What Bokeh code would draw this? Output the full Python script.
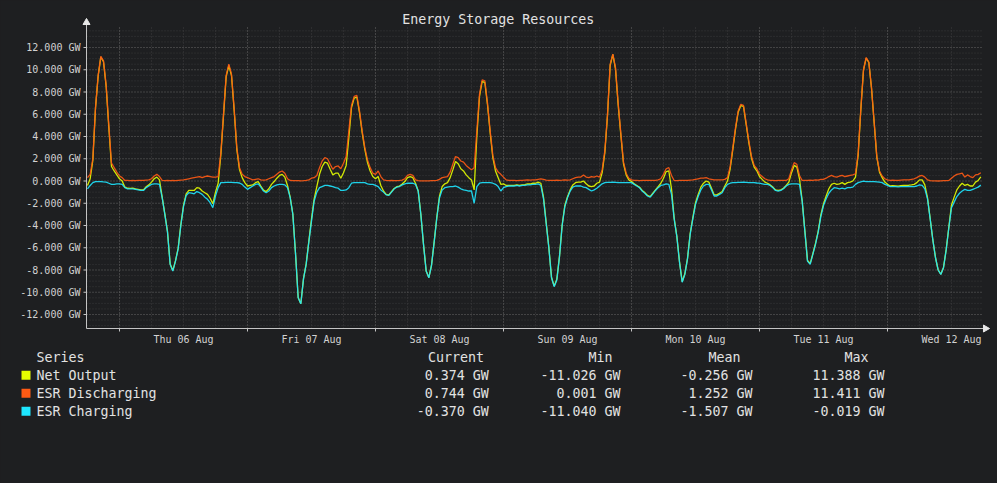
import datetime as dt
import math
import numpy as np
from bokeh.plotting import figure
from bokeh.models import Range1d, FixedTicker, PrintfTickFormatter, DatetimeTickFormatter
from bokeh.embed import file_html
from bokeh.resources import INLINE
from bokeh.core.properties import value

# ---------------- data (GW, 30-minute samples from Wed 05 Aug 18:00) ----------------
START = dt.datetime(2020, 8, 5, 18, 0)
STEP_MINUTES = 30

esr_discharging = [
    0.3, 0.6, 2.0, 6.6, 9.5, 11.2, 10.8, 8.6, 5.0, 1.6, 1.2, 0.8,
    0.45, 0.3, 0.05, 0.05, 0.03, 0.05, 0.04, 0.05, 0.06, 0.05, 0.08, 0.1,
    0.2, 0.45, 0.6, 0.4, 0.05, 0.04, 0.05, 0.03, 0.05, 0.04, 0.06, 0.08,
    0.1, 0.15, 0.2, 0.25, 0.3, 0.35, 0.4, 0.3, 0.4, 0.45, 0.4, 0.35,
    0.35, 0.4, 2.5, 6.0, 9.5, 10.5, 9.6, 6.5, 3.0, 1.2, 0.6, 0.4,
    0.3, 0.2, 0.1, 0.15, 0.2, 0.1, 0.08, 0.1, 0.2, 0.3, 0.4, 0.6,
    0.8, 0.9, 0.7, 0.2, 0.05, 0.04, 0.03, 0.03, 0.02, 0.03, 0.05, 0.1,
    0.25, 0.3, 0.5, 1.2, 1.8, 2.1, 2.0, 1.5, 1.05, 1.3, 1.35, 1.1,
    1.6, 2.2, 4.5, 6.8, 7.6, 7.7, 6.3, 4.5, 3.0, 1.9, 1.2, 0.7,
    0.6, 0.9, 0.4, 0.1, 0.05, 0.04, 0.05, 0.03, 0.04, 0.05, 0.08, 0.2,
    0.5, 0.6, 0.5, 0.1, 0.03, 0.02, 0.02, 0.02, 0.02, 0.03, 0.03, 0.05,
    0.15, 0.3, 0.35, 0.4, 0.8, 1.5, 2.2, 2.1, 1.8, 1.7, 1.4, 1.2,
    1.0, 1.2, 4.5, 7.8, 9.1, 9.0, 7.0, 4.5, 2.3, 1.2, 0.8, 0.6,
    0.35, 0.1, 0.05, 0.06, 0.05, 0.04, 0.05, 0.06, 0.08, 0.1, 0.08, 0.1,
    0.1, 0.15, 0.2, 0.15, 0.08, 0.05, 0.06, 0.05, 0.08, 0.05, 0.07, 0.1,
    0.08, 0.1, 0.2, 0.3, 0.35, 0.35, 0.55, 0.35, 0.3, 0.4, 0.35, 0.45,
    0.35, 1.0, 2.7, 6.0, 10.5, 11.411, 10.2, 7.0, 4.3, 1.7, 0.7, 0.25,
    0.1, 0.05, 0.05, 0.04, 0.05, 0.06, 0.05, 0.05, 0.05, 0.05, 0.1, 0.2,
    0.6, 1.1, 1.2, 0.5, 0.05, 0.04, 0.05, 0.05, 0.06, 0.05, 0.08, 0.1,
    0.15, 0.2, 0.25, 0.25, 0.3, 0.2, 0.15, 0.1, 0.1, 0.1, 0.1, 0.15,
    0.3, 1.3, 3.0, 4.8, 6.3, 6.9, 6.8, 5.2, 3.6, 2.2, 1.4, 1.1,
    0.6, 0.4, 0.2, 0.1, 0.05, 0.05, 0.04, 0.05, 0.06, 0.05, 0.05, 0.2,
    1.0, 1.65, 1.5, 0.5, 0.05, 0.06, 0.05, 0.08, 0.06, 0.1, 0.08, 0.15,
    0.15, 0.25, 0.4, 0.5, 0.4, 0.35, 0.45, 0.5, 0.4, 0.45, 0.5, 0.55,
    0.65, 2.5, 6.5, 10.0, 11.1, 10.7, 8.4, 5.3, 2.2, 0.9, 0.45, 0.2,
    0.1, 0.05, 0.08, 0.06, 0.05, 0.08, 0.1, 0.1, 0.1, 0.15, 0.2, 0.3,
    0.45, 0.5, 0.35, 0.1, 0.03, 0.02, 0.02, 0.001, 0.02, 0.03, 0.03, 0.05,
    0.25, 0.45, 0.6, 0.65, 0.7, 0.35, 0.55, 0.4, 0.3, 0.55, 0.6, 0.744,
]

esr_charging = [
    -0.7, -0.4, -0.15, -0.05, -0.05, -0.05, -0.08, -0.1, -0.2, -0.3, -0.3, -0.25,
    -0.25, -0.3, -0.6, -0.7, -0.7, -0.7, -0.75, -0.8, -0.85, -0.85, -0.6, -0.45,
    -0.3, -0.25, -0.25, -0.3, -1.5, -3.0, -4.6, -7.5, -8.1, -7.2, -6.1, -4.0,
    -2.3, -1.3, -1.05, -1.1, -1.15, -0.95, -1.05, -1.2, -1.45, -1.65, -1.95, -2.4,
    -1.35, -0.6, -0.15, -0.15, -0.12, -0.12, -0.12, -0.15, -0.15, -0.18, -0.3, -0.55,
    -0.75, -0.6, -0.45, -0.3, -0.25, -0.55, -0.9, -1.05, -0.9, -0.6, -0.45, -0.35,
    -0.3, -0.3, -0.35, -0.6, -1.5, -3.0, -6.5, -10.5, -11.04, -8.8, -7.5, -5.5,
    -3.6, -1.8, -1.0, -0.6, -0.5, -0.4, -0.4, -0.45, -0.5, -0.6, -0.65, -0.85,
    -0.85, -0.8, -0.6, -0.2, -0.15, -0.15, -0.15, -0.15, -0.15, -0.25, -0.3, -0.3,
    -0.4, -0.5, -0.8, -1.0, -1.25, -1.3, -1.0, -0.7, -0.55, -0.5, -0.35, -0.25,
    -0.2, -0.2, -0.2, -0.3, -0.9, -3.0, -5.7, -8.1, -8.7, -7.6, -5.5, -3.3,
    -1.5, -0.8, -0.6, -0.55, -0.5, -0.5, -0.45, -0.55, -0.7, -0.8, -0.85, -0.9,
    -0.9, -2.0, -0.5, -0.2, -0.15, -0.15, -0.15, -0.15, -0.2, -0.3, -0.5, -0.9,
    -0.6, -0.5, -0.45, -0.45, -0.45, -0.4, -0.45, -0.4, -0.4, -0.35, -0.35, -0.3,
    -0.3, -0.25, -0.4, -1.6, -3.8, -6.0, -8.7, -9.5, -8.9, -6.8, -4.0, -2.3,
    -1.5, -0.9, -0.55, -0.45, -0.45, -0.45, -0.55, -0.6, -0.75, -0.9, -0.8, -0.65,
    -0.45, -0.25, -0.15, -0.12, -0.12, -0.1, -0.12, -0.15, -0.15, -0.15, -0.15, -0.15,
    -0.15, -0.3, -0.45, -0.6, -0.9, -1.1, -1.35, -1.45, -1.15, -0.85, -0.6, -0.4,
    -0.35, -0.25, -0.3, -1.2, -3.4, -5.0, -7.3, -9.1, -8.4, -7.0, -4.8, -3.4,
    -2.1, -1.4, -0.8, -0.45, -0.3, -0.3, -0.8, -1.35, -1.35, -1.2, -1.05, -0.6,
    -0.3, -0.2, -0.15, -0.15, -0.12, -0.12, -0.1, -0.12, -0.15, -0.15, -0.15, -0.18,
    -0.2, -0.25, -0.3, -0.3, -0.4, -0.6, -0.85, -0.9, -0.85, -0.7, -0.45, -0.3,
    -0.25, -0.25, -0.25, -0.3, -1.8, -4.5, -7.2, -7.5, -6.6, -5.7, -4.6, -3.2,
    -2.2, -1.6, -1.1, -0.8, -0.6, -0.65, -0.7, -0.65, -0.7, -0.6, -0.6, -0.55,
    -0.3, -0.15, -0.08, -0.019, -0.05, -0.05, -0.05, -0.06, -0.08, -0.1, -0.15, -0.3,
    -0.4, -0.5, -0.5, -0.5, -0.52, -0.5, -0.5, -0.5, -0.48, -0.5, -0.5, -0.45,
    -0.35, -0.4, -0.7, -1.6, -3.4, -5.3, -6.9, -8.0, -8.4, -7.8, -6.2, -4.2,
    -2.4, -1.9, -1.4, -1.1, -0.9, -0.75, -0.85, -0.85, -0.75, -0.65, -0.55, -0.37,
]

net_output = [
    -0.4, 0.2, 1.85, 6.55, 9.45, 11.15, 10.72, 8.5, 4.8, 1.3, 0.9, 0.55,
    0.2, 0.0, -0.55, -0.65, -0.67, -0.65, -0.71, -0.75, -0.79, -0.8, -0.52, -0.35,
    -0.1, 0.2, 0.35, 0.1, -1.45, -2.96, -4.55, -7.47, -8.05, -7.16, -6.04, -3.92,
    -2.2, -1.15, -0.85, -0.85, -0.85, -0.6, -0.65, -0.9, -1.05, -1.2, -1.55, -2.05,
    -1.0, -0.2, 2.35, 5.85, 9.38, 10.38, 9.48, 6.35, 2.85, 1.02, 0.3, -0.15,
    -0.45, -0.4, -0.35, -0.15, -0.05, -0.45, -0.82, -0.95, -0.7, -0.3, -0.05, 0.25,
    0.5, 0.6, 0.35, -0.4, -1.45, -2.96, -6.47, -10.47, -11.026, -8.77, -7.45, -5.4,
    -3.4, -1.6, -0.5, 0.6, 1.3, 1.7, 1.6, 1.05, 0.55, 0.7, 0.7, 0.25,
    0.75, 1.4, 3.9, 6.6, 7.45, 7.55, 6.15, 4.35, 2.85, 1.65, 0.9, 0.4,
    0.2, 0.4, -0.4, -0.9, -1.2, -1.26, -0.95, -0.67, -0.51, -0.45, -0.27, -0.05,
    0.3, 0.4, 0.3, -0.2, -0.87, -2.98, -5.68, -8.08, -8.68, -7.57, -5.47, -3.25,
    -1.35, -0.5, -0.25, -0.15, 0.3, 1.0, 1.75, 1.55, 1.1, 0.9, 0.55, 0.3,
    0.1, -0.8, 4.0, 7.6, 8.95, 8.85, 6.85, 4.35, 2.1, 0.9, 0.3, -0.3,
    -0.25, -0.4, -0.4, -0.39, -0.4, -0.36, -0.4, -0.34, -0.32, -0.25, -0.27, -0.2,
    -0.2, -0.1, -0.2, -1.45, -3.72, -5.95, -8.64, -9.45, -8.82, -6.75, -3.93, -2.2,
    -1.42, -0.8, -0.35, -0.15, -0.1, -0.1, 0.0, -0.25, -0.45, -0.5, -0.45, -0.2,
    -0.1, 0.75, 2.55, 5.88, 10.38, 11.388, 10.08, 6.85, 4.15, 1.55, 0.55, 0.1,
    -0.05, -0.25, -0.4, -0.56, -0.85, -1.04, -1.3, -1.4, -1.1, -0.8, -0.5, -0.2,
    0.25, 0.85, 0.9, -0.7, -3.35, -4.96, -7.25, -9.05, -8.34, -6.95, -4.72, -3.3,
    -1.95, -1.2, -0.55, -0.2, 0.0, -0.1, -0.65, -1.25, -1.25, -1.1, -0.95, -0.45,
    0.0, 1.1, 2.85, 4.65, 6.18, 6.78, 6.7, 5.08, 3.45, 2.05, 1.25, 0.92,
    0.4, 0.15, -0.1, -0.2, -0.35, -0.55, -0.81, -0.85, -0.79, -0.65, -0.4, -0.1,
    0.75, 1.4, 1.25, 0.2, -1.75, -4.44, -7.15, -7.42, -6.54, -5.6, -4.52, -3.05,
    -2.05, -1.35, -0.7, -0.3, -0.2, -0.3, -0.25, -0.15, -0.3, -0.15, -0.1, 0.0,
    0.35, 2.35, 6.42, 9.98, 11.05, 10.65, 8.35, 5.24, 2.12, 0.8, 0.3, -0.1,
    -0.3, -0.45, -0.42, -0.44, -0.47, -0.42, -0.4, -0.4, -0.38, -0.35, -0.3, -0.15,
    0.1, 0.1, -0.35, -1.5, -3.37, -5.28, -6.88, -8.0, -8.38, -7.77, -6.17, -4.15,
    -2.15, -1.45, -0.8, -0.45, -0.2, -0.4, -0.3, -0.45, -0.45, -0.1, 0.05, 0.374,
]

assert len(net_output) == len(esr_discharging) == len(esr_charging) == 336

series_names = ["Net Output", "ESR Discharging", "ESR Charging"]
series_colors = ["#e5ff00", "#ff5a14", "#1ee6ff"]
stat_headers = ["Current", "Min", "Mean", "Max"]
stat_current = ["0.374 GW", "0.744 GW", "-0.370 GW"]
stat_min = ["-11.026 GW", "0.001 GW", "-11.040 GW"]
stat_mean = ["-0.256 GW", "1.252 GW", "-1.507 GW"]
stat_max = ["11.388 GW", "11.411 GW", "-0.019 GW"]
y_tick_values = [-12, -10, -8, -6, -4, -2, 0, 2, 4, 6, 8, 10, 12]
day_dates = [dt.datetime(2020, 8, d) for d in range(6, 13)]
TITLE = "Energy Storage Resources"

# ---------------- styling / geometry ----------------
BG = "#1e1f21"
MONO = "DejaVu Sans Mono"
TXT = "#e2e2e2"
EPOCH = dt.datetime(1970, 1, 1)


def ms(d):
    return (d - EPOCH).total_seconds() * 1000.0


AUG6 = ms(dt.datetime(2020, 8, 6))
PX_PER_HOUR = 128.0 / 24.0
PX_PER_GW = 11.125


def px_t(x):  # page pixel column -> time (ms)
    return AUG6 + (x - 119.0) / PX_PER_HOUR * 3600e3


def px_v(y):  # page pixel row -> GW
    return (180.5 - y) / PX_PER_GW


times = [ms(START + dt.timedelta(minutes=STEP_MINUTES * i)) for i in range(len(net_output))]

# frame covers the whole canvas; axes are pinned inside it with fixed_location
p = figure(width=997, height=483, x_axis_type="datetime",
           x_range=Range1d(px_t(0), px_t(997)), y_range=Range1d(px_v(483), px_v(0)),
           min_border_left=0, min_border_right=0, min_border_top=0, min_border_bottom=0,
           output_backend="svg", toolbar_location=None)
p.background_fill_color = BG
p.border_fill_color = BG
p.outline_line_color = None
p.xgrid.visible = False
p.ygrid.visible = False

t_left, t_right = px_t(86), px_t(983)
v_bot, v_top = px_v(328), px_v(25)

# grid (RRD style dotted)
minor_gw = [v for v in np.arange(-13.0, 13.51, 0.5) if abs(v / 2 - round(v / 2)) > 1e-9]
major_gw = y_tick_values
mids = [ms(d) for d in day_dates]
six = [ms(dt.datetime(2020, 8, 6) + dt.timedelta(hours=6 * k)) for k in range(0, 27)]
six = [t for t in six if t not in mids]
p.segment(x0=[t_left] * len(minor_gw), x1=[t_right] * len(minor_gw), y0=minor_gw, y1=minor_gw,
          line_color="#39393b", line_dash="1 2", line_width=1)
p.segment(x0=six, x1=six, y0=[v_bot] * len(six), y1=[v_top] * len(six),
          line_color="#3c3c3e", line_dash="1 2", line_width=1)
p.segment(x0=[t_left] * len(major_gw), x1=[t_right] * len(major_gw), y0=major_gw, y1=major_gw,
          line_color="#686868", line_dash="1 2", line_width=1)
p.segment(x0=mids, x1=mids, y0=[v_bot] * len(mids), y1=[v_top] * len(mids),
          line_color="#686868", line_dash="1 2", line_width=1)

# series
for vals, col in zip([net_output, esr_discharging, esr_charging], series_colors):
    p.line(times, vals, line_color=col, line_width=1.3, line_alpha=0.9)

# axis lines, ticks and arrows
AX = "#c4c4c4"
p.segment(x0=[t_left], x1=[t_left], y0=[v_bot], y1=[px_v(22)], line_color=AX, line_width=1)
p.segment(x0=[t_left], x1=[px_t(985)], y0=[v_bot], y1=[v_bot], line_color=AX, line_width=1)
p.segment(x0=[px_t(83)] * len(major_gw), x1=[t_left] * len(major_gw), y0=major_gw, y1=major_gw,
          line_color=AX, line_width=1)
p.segment(x0=mids, x1=mids, y0=[v_bot] * len(mids), y1=[px_v(331)] * len(mids),
          line_color=AX, line_width=1)
p.scatter(x=[t_left], y=[px_v(22)], marker="triangle", size=7, fill_color="#e8e8e8",
          line_color="#e8e8e8")
p.scatter(x=[px_t(985)], y=[v_bot], marker="triangle", size=7, angle=-math.pi / 2,
          fill_color="#e8e8e8", line_color="#e8e8e8")

# title
p.text(x=[px_t(497.7)], y=[px_v(19)], text=[TITLE], text_align="center",
       text_baseline="middle", text_font=value(MONO), text_font_size=value("13.3px"),
       text_color=TXT)

# axes (labels only, pinned to the plot-area edges)
for ax in [p.xaxis[0], p.yaxis[0]]:
    ax.axis_line_color = None
    ax.major_tick_line_color = None
    ax.minor_tick_line_color = None
    ax.major_tick_out = 0
    ax.major_tick_in = 0
    ax.minor_tick_out = 0
    ax.minor_tick_in = 0
    ax.major_label_text_font = MONO
    ax.major_label_text_font_size = "10px"
    ax.major_label_text_color = "#d2d2d2"
p.yaxis.ticker = FixedTicker(ticks=y_tick_values)
p.yaxis.formatter = PrintfTickFormatter(format="%.3f GW")
p.yaxis.major_label_standoff = 3
p.yaxis.fixed_location = px_t(83)
p.xaxis.ticker = FixedTicker(ticks=[ms(d + dt.timedelta(hours=12)) for d in day_dates])
F = "%a %d %b"
p.xaxis.formatter = DatetimeTickFormatter(microseconds=F, milliseconds=F, seconds=F, minsec=F,
                                          minutes=F, hourmin=F, hours=F, days=F, months=F, years=F)
p.xaxis.major_label_standoff = 2
p.xaxis.fixed_location = px_v(331)

# ---------------- legend table ----------------
txt_kw = dict(text_font=value(MONO), text_font_size=value("13.3px"), text_color=TXT,
              text_baseline="middle")
row_y = [374.5, 392.5, 410.5]
p.text(x=[px_t(36)], y=[px_v(356.5)], text=["Series"], text_align="left", **txt_kw)
p.text(x=[px_t(v) for v in [483.5, 612, 740, 868]], y=[px_v(356.5)] * 4, text=stat_headers,
       text_align="right", **txt_kw)
p.text(x=[px_t(36)] * 3, y=[px_v(y) for y in row_y], text=series_names, text_align="left",
       **txt_kw)
for colx, vals in zip([488.3, 620, 752, 884], [stat_current, stat_min, stat_mean, stat_max]):
    p.text(x=[px_t(colx)] * 3, y=[px_v(y) for y in row_y], text=vals, text_align="right",
           **txt_kw)
p.quad(left=[px_t(21)] * 3, right=[px_t(30)] * 3, top=[px_v(y - 4.2) for y in row_y],
       bottom=[px_v(y + 4.8) for y in row_y], fill_color=series_colors, line_color=None)

html = file_html(p, INLINE)
html = html.replace("<head>", "<head><style>html,body{background:%s;}</style>" % BG, 1)
open("out.html", "w").write(html)
